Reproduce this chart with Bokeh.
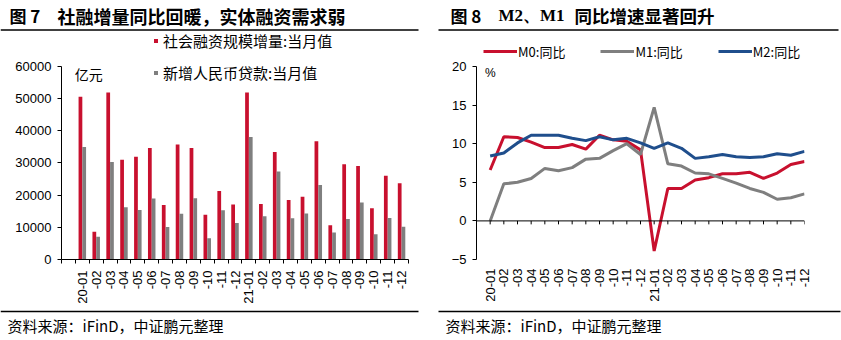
from bokeh.plotting import figure
from bokeh.models import (Range1d, FixedTicker, Label, Legend, LegendItem, Span,
                          ColumnDataSource)
from bokeh.layouts import column, row
from bokeh.embed import file_html
from bokeh.resources import INLINE
import numpy as np
from math import pi

# ---------------- data ----------------
months = ["20-01", "-02", "-03", "-04", "-05", "-06", "-07", "-08", "-09", "-10", "-11", "-12",
          "21-01", "-02", "-03", "-04", "-05", "-06", "-07", "-08", "-09", "-10", "-11", "-12"]

tsf_increment = [50500, 8600, 51800, 31000, 31900, 34600, 16900, 35700, 34600, 13900, 21300, 17100,
                 51800, 17200, 33400, 18500, 19500, 36700, 10600, 29600, 29000, 15900, 26000, 23700]
new_rmb_loans = [34900, 7100, 30300, 16200, 15400, 18900, 10100, 14200, 19000, 6600, 15300, 11300,
                 38000, 13400, 27300, 12800, 14300, 23100, 8400, 12600, 17700, 7800, 12900, 10200]

m0_yoy = [6.6, 10.9, 10.8, 10.2, 9.5, 9.5, 9.9, 9.3, 11.1, 10.5, 10.3, 9.2,
          -3.9, 4.2, 4.2, 5.3, 5.6, 6.1, 6.1, 6.3, 5.5, 6.2, 7.3, 7.7]
m1_yoy = [0.0, 4.8, 5.0, 5.5, 6.8, 6.5, 6.9, 8.0, 8.1, 9.1, 10.0, 8.6,
          14.7, 7.4, 7.1, 6.2, 6.1, 5.5, 4.9, 4.2, 3.7, 2.8, 3.0, 3.5]
m2_yoy = [8.4, 8.8, 10.1, 11.1, 11.1, 11.1, 10.7, 10.4, 10.9, 10.5, 10.7, 10.1,
          9.4, 10.1, 9.4, 8.1, 8.3, 8.6, 8.3, 8.2, 8.3, 8.7, 8.5, 9.0]

left_y_ticks = [0, 10000, 20000, 30000, 40000, 50000, 60000]
right_y_ticks = [-5, 0, 5, 10, 15, 20]

title_left_no = "图 7"
title_left = "社融增量同比回暖，实体融资需求弱"
title_right_no = "图 8"
title_right_a = "M2、M1"
title_right_b = "同比增速显著回升"
source_text = "资料来源：iFinD，中证鹏元整理"
legend_tsf = "社会融资规模增量:当月值"
legend_loans = "新增人民币贷款:当月值"
unit_left = "亿元"
unit_right = "%"
legend_m0 = "M0:同比"
legend_m1 = "M1:同比"
legend_m2 = "M2:同比"

# ---------------- styles ----------------
RED = "#C8102E"
GRAY = "#7F7F7F"
BLUE = "#1F4E8C"
CJK = "Noto Sans CJK SC"
LAT = "Liberation Sans"

n = len(months)
idx = np.arange(n)

CHART_H = 277
# left chart: frame covers fig y 0..230, data axis occupies the lower 195 px
L_FRAME, L_AXIS = 230, 195
# right chart: frame covers fig y 0..228, data axis occupies the lower 193 px
R_FRAME, R_AXIS = 228, 193


def bare(fig):
    fig.grid.visible = False
    fig.outline_line_color = None
    fig.background_fill_color = None
    fig.border_fill_color = "white"


def style_axis(ax):
    ax.axis_line_color = "black"
    ax.axis_line_width = 1
    ax.major_tick_line_color = "black"
    ax.minor_tick_line_color = "black"
    ax.major_label_text_font = LAT
    ax.major_label_text_font_size = "13px"
    ax.major_label_text_color = "black"


def legend_style(**kw):
    base = dict(padding=0, margin=0, border_line_color=None, background_fill_alpha=0,
                label_text_font=CJK, label_text_color="black", label_height=20)
    base.update(kw)
    return base


# ---------------- header ----------------
hdr = figure(width=841, height=31, x_range=Range1d(0, 841), y_range=Range1d(31, 0),
             x_axis_type=None, y_axis_type=None, output_backend="svg",
             toolbar_location=None, min_border=0)
bare(hdr)
for txt, x, font, size in [(title_left_no, 9, CJK, "17px"), (title_left, 57, CJK, "18px"),
                           (title_right_no, 450, CJK, "17px"),
                           (title_right_a, 498, "Liberation Serif", "17px"),
                           (title_right_b, 574, CJK, "17.5px")]:
    hdr.add_layout(Label(x=x, y=15, text=txt, text_font=font, text_font_size=size,
                         text_font_style="bold", text_baseline="middle", text_color="black"))
hdr.segment(x0=[0, 438], x1=[418, 838], y0=[29.5, 29.5], y1=[29.5, 29.5],
            line_color="black", line_width=1.3)

# ---------------- left chart ----------------
l_top = left_y_ticks[-1] * L_FRAME / L_AXIS
pl = figure(width=420, height=CHART_H, output_backend="svg", toolbar_location=None,
            x_range=Range1d(-1.5, n - 0.5), y_range=Range1d(0, l_top),
            min_border_left=61, min_border_right=12, min_border_top=0,
            min_border_bottom=CHART_H - L_FRAME)
bare(pl)
src = ColumnDataSource(dict(xr=idx - 0.135, xg=idx + 0.135, tsf=tsf_increment, loans=new_rmb_loans))
r_tsf = pl.vbar(x="xr", top="tsf", width=0.27, bottom=0, source=src, fill_color=RED, line_color=None)
r_loan = pl.vbar(x="xg", top="loans", width=0.27, bottom=0, source=src, fill_color=GRAY, line_color=None)

pl.yaxis.ticker = FixedTicker(ticks=left_y_ticks)
pl.yaxis.bounds = (left_y_ticks[0], left_y_ticks[-1])
pl.yaxis.minor_tick_line_color = None
pl.yaxis.major_tick_in = 0
pl.yaxis.major_tick_out = 4
pl.yaxis.major_label_standoff = 6
style_axis(pl.yaxis[0])

pl.xaxis.ticker = FixedTicker(ticks=list(range(n)), minor_ticks=[i - 0.5 for i in range(-1, n + 1)])
pl.xaxis.major_label_overrides = {i: m for i, m in enumerate(months)}
pl.xaxis.major_label_orientation = pi / 2
style_axis(pl.xaxis[0])
pl.xaxis.major_tick_in = 0
pl.xaxis.major_tick_out = 0
pl.xaxis.minor_tick_in = 0
pl.xaxis.minor_tick_out = 4
pl.xaxis.major_label_standoff = 7

pl.add_layout(Label(x=-0.54, y=57500, text=unit_left, text_font=CJK, text_font_size="14px",
                    text_baseline="middle", text_color="black"))

leg_l = Legend(items=[LegendItem(label=legend_tsf, renderers=[r_tsf]),
                      LegendItem(label=legend_loans, renderers=[r_loan])],
               location=(92, 176), orientation="vertical", glyph_width=5, glyph_height=5,
               label_standoff=5, spacing=11, **legend_style(label_text_font_size="15px"))
pl.add_layout(leg_l, "center")

# ---------------- right chart ----------------
r_top = right_y_ticks[0] + (right_y_ticks[-1] - right_y_ticks[0]) * R_FRAME / R_AXIS
pr = figure(width=421, height=CHART_H, output_backend="svg", toolbar_location=None,
            x_range=Range1d(-1, n - 1), y_range=Range1d(right_y_ticks[0], r_top),
            min_border_left=56, min_border_right=37, min_border_top=0,
            min_border_bottom=CHART_H - R_FRAME)
bare(pr)
r_m0 = pr.line(idx, m0_yoy, line_color=RED, line_width=3)
r_m1 = pr.line(idx, m1_yoy, line_color=GRAY, line_width=3)
r_m2 = pr.line(idx, m2_yoy, line_color=BLUE, line_width=3)

pr.add_layout(Span(location=0, dimension="width", line_color="black", line_width=1))
tick_x = list(range(-1, n))
pr.segment(x0=tick_x, x1=tick_x, y0=[0] * len(tick_x), y1=[-0.45] * len(tick_x),
           line_color="black", line_width=1)

pr.yaxis.ticker = FixedTicker(ticks=right_y_ticks)
pr.yaxis.bounds = (right_y_ticks[0], right_y_ticks[-1])
pr.yaxis.major_label_overrides = {-5: "\u22125"}
pr.yaxis.minor_tick_line_color = None
pr.yaxis.major_tick_in = 0
pr.yaxis.major_tick_out = 4
pr.yaxis.major_label_standoff = 6
style_axis(pr.yaxis[0])

pr.xaxis.ticker = FixedTicker(ticks=list(range(n)))
pr.xaxis.major_label_overrides = {i: m for i, m in enumerate(months)}
pr.xaxis.major_label_orientation = pi / 2
style_axis(pr.xaxis[0])
pr.xaxis.axis_line_color = None
pr.xaxis.major_tick_line_color = None
pr.xaxis.minor_tick_line_color = None
pr.xaxis.major_tick_in = 0
pr.xaxis.major_tick_out = 0
pr.xaxis.major_label_standoff = 9

pr.add_layout(Label(x=0.02, y=19.2, text=unit_right, text_font=LAT, text_font_size="12px",
                    text_align="center", text_baseline="middle", text_color="black"))

leg_r = Legend(items=[LegendItem(label=legend_m0, renderers=[r_m0]),
                      LegendItem(label=legend_m1, renderers=[r_m1]),
                      LegendItem(label=legend_m2, renderers=[r_m2])],
               location=(7, 198), orientation="horizontal", glyph_width=34, glyph_height=20,
               label_standoff=1, spacing=35, **legend_style(label_text_font_size="13px"))
pr.add_layout(leg_r, "center")

# ---------------- footer ----------------
ftr = figure(width=841, height=32, x_range=Range1d(0, 841), y_range=Range1d(32, 0),
             x_axis_type=None, y_axis_type=None, output_backend="svg",
             toolbar_location=None, min_border=0)
bare(ftr)
ftr.segment(x0=[0, 438], x1=[418, 840], y0=[3, 3], y1=[3, 3], line_color="black", line_width=1.3)
for x in [7, 445]:
    ftr.add_layout(Label(x=x, y=17, text=source_text, text_font=CJK, text_font_size="15px",
                         text_baseline="middle", text_color="black"))

layout = column(hdr, row(pl, pr, spacing=0), ftr, spacing=0)
open("out.html", "w").write(file_html(layout, INLINE))
